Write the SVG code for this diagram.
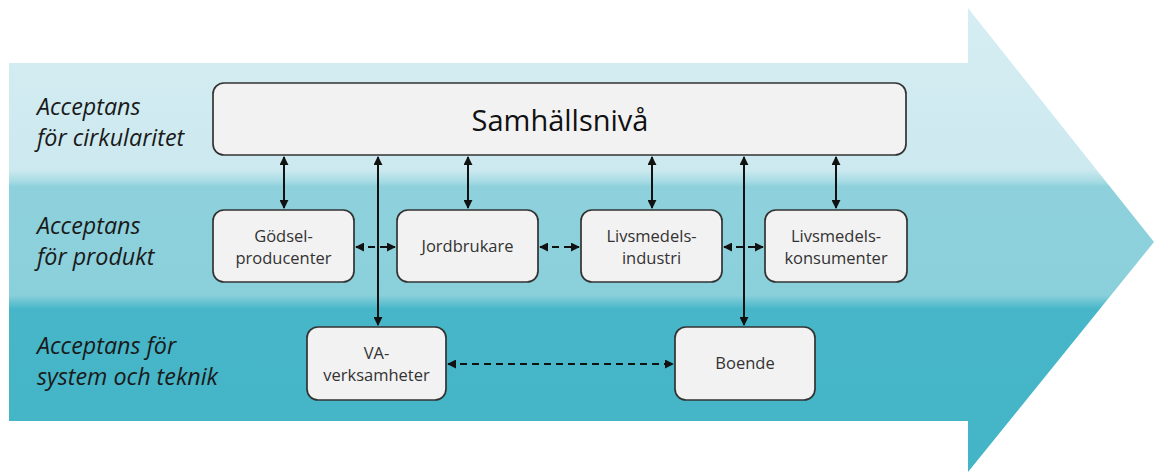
<svg xmlns="http://www.w3.org/2000/svg" width="1154" height="472" viewBox="0 0 1154 472">
<defs>
<linearGradient id="bg" gradientUnits="userSpaceOnUse" x1="0" y1="0" x2="0" y2="472">
<stop offset="0" stop-color="#d6eef3"/>
<stop offset="0.36" stop-color="#cce9ef"/>
<stop offset="0.385" stop-color="#a6dbe4"/>
<stop offset="0.395" stop-color="#8ed1dc"/>
<stop offset="0.625" stop-color="#8ad0db"/>
<stop offset="0.655" stop-color="#46b6c8"/>
<stop offset="1" stop-color="#44b4c7"/>
</linearGradient>
<marker id="ah" viewBox="0 0 10 10" refX="9" refY="5" markerWidth="9" markerHeight="9" markerUnits="userSpaceOnUse" orient="auto-start-reverse">
<path d="M0,0 L10,5 L0,10 z" fill="#111"/>
</marker>
</defs>
<style>
.box{fill:#f2f2f2;stroke:#333;stroke-width:1.7}
.lbl{font-family:"Open Sans","Liberation Sans",sans-serif;font-size:16.5px;fill:#333;text-anchor:middle}
.side{font-family:"Open Sans","Liberation Sans",sans-serif;font-size:23.3px;font-style:italic;fill:#1a1a1a}
.c{stroke:#111;stroke-width:2;fill:none;marker-start:url(#ah);marker-end:url(#ah)}
.d{stroke-dasharray:7,5}
</style>
<g id="background">
<path d="M9,63 L968,63 L968,8 L1154,242 L968,472 L968,421 L9,421 Z" fill="url(#bg)"/>
</g>
<g id="side-labels">
<text class="side" x="37" y="115">Acceptans</text>
<text class="side" x="37" y="146">för cirkularitet</text>
<text class="side" x="37" y="234">Acceptans</text>
<text class="side" x="37" y="265">för produkt</text>
<text class="side" x="37" y="354">Acceptans för</text>
<text class="side" x="37" y="385">system och teknik</text>
</g>
<g id="connectors">
<line class="c" x1="284" y1="157" x2="284" y2="208"/>
<line class="c" x1="378" y1="157" x2="378" y2="325"/>
<line class="c" x1="468" y1="157" x2="468" y2="208"/>
<line class="c" x1="652" y1="157" x2="652" y2="208"/>
<line class="c" x1="744" y1="157" x2="744" y2="325"/>
<line class="c" x1="836" y1="157" x2="836" y2="208"/>
<line class="c d" x1="356" y1="247" x2="395" y2="247"/>
<line class="c d" x1="540" y1="247" x2="579" y2="247"/>
<line class="c d" x1="724" y1="247" x2="763" y2="247"/>
<line class="c d" x1="448" y1="364" x2="673" y2="364"/>
</g>
<g id="samhallsniva">
<rect class="box" x="213" y="83" width="693" height="72" rx="11"/>
<text x="560" y="131" font-family="Open Sans, Liberation Sans, sans-serif" font-size="29" fill="#111" text-anchor="middle">Samhällsnivå</text>
</g>
<g id="godsel">
<rect class="box" x="213" y="210" width="141" height="72" rx="11"/>
<text class="lbl" x="283.5" y="242">Gödsel-</text>
<text class="lbl" x="283.5" y="264">producenter</text>
</g>
<g id="jordbrukare">
<rect class="box" x="397" y="210" width="141" height="72" rx="11"/>
<text class="lbl" x="467.5" y="252">Jordbrukare</text>
</g>
<g id="livsmedelsindustri">
<rect class="box" x="581" y="210" width="141" height="72" rx="11"/>
<text class="lbl" x="651.5" y="242">Livsmedels-</text>
<text class="lbl" x="651.5" y="264">industri</text>
</g>
<g id="livsmedelskonsumenter">
<rect class="box" x="765" y="210" width="142" height="72" rx="11"/>
<text class="lbl" x="836" y="242">Livsmedels-</text>
<text class="lbl" x="836" y="264">konsumenter</text>
</g>
<g id="va">
<rect class="box" x="307" y="327" width="139" height="73" rx="11"/>
<text class="lbl" x="376.5" y="359">VA-</text>
<text class="lbl" x="376.5" y="381">verksamheter</text>
</g>
<g id="boende">
<rect class="box" x="675" y="327" width="140" height="73" rx="11"/>
<text class="lbl" x="745" y="369">Boende</text>
</g>
</svg>
